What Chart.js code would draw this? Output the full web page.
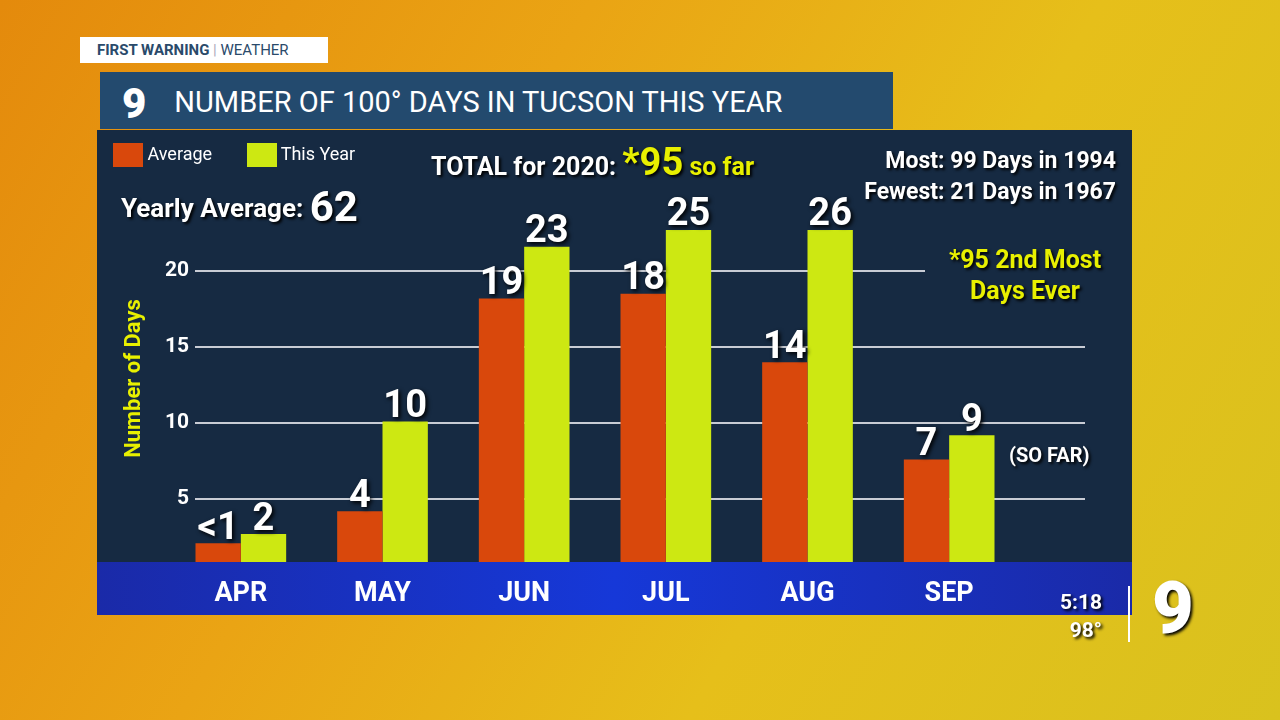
<!DOCTYPE html>
<html>
<head>
<meta charset="utf-8">
<script src="https://cdn.jsdelivr.net/npm/chart.js@4"></script>
<style>
body { margin:0; width:1280px; height:720px; overflow:hidden; font-family:Roboto, sans-serif;
  background: linear-gradient(120deg, #e48a0c 0%, #eaa414 35%, #e6bf1a 65%, #d9c21e 100%); position:relative; }
.abs { position:absolute; }
#tag { left:80px; top:37px; width:248px; height:26px; background:#fff; font-size:15px; line-height:26px; color:#2a4a6a; }
#title { left:100px; top:72px; width:793px; height:57px; background:#234a6e; color:#fff; font-size:29px; line-height:60px; }
#panel { left:97px; top:130px; width:1035px; height:485px; background:#162a42; }
#band { left:97px; top:562px; width:1035px; height:53px; background:linear-gradient(90deg,#1a2aa8,#1638d8 50%,#1a2aa8); }
#chartbox { left:97px; top:130px; width:1035px; height:485px; }
.w { color:#fff; font-weight:bold; }
.y { color:#e8f000; font-weight:bold; }
.sh { text-shadow:2px 2px 3px #000; }
</style>
</head>
<body>
<div class="abs" id="tag"><b style="margin-left:17px">FIRST WARNING</b> <span style="color:#aab">|</span> WEATHER</div>
<div class="abs" id="title"><span style="font-weight:900;font-size:42px;margin-left:22px;vertical-align:middle">9</span><span style="margin-left:28px">NUMBER OF 100° DAYS IN TUCSON THIS YEAR</span></div>
<div class="abs" id="panel"></div>
<div class="abs" id="band"></div>
<div class="abs" id="chartbox"><canvas id="chart" width="1035" height="485"></canvas></div>

<div class="abs w" style="left:113px;top:143px;font-size:18px;font-weight:normal"><span style="display:inline-block;width:30px;height:24px;background:#d9480c;vertical-align:middle"></span> Average <span style="display:inline-block;width:30px;height:24px;background:#cde812;vertical-align:middle;margin-left:30px"></span> This Year</div>
<div class="abs w sh" style="left:431px;top:140px;font-size:25px">TOTAL for 2020: <span class="y" style="font-size:38px">*95</span><span class="y"> so far</span></div>
<div class="abs w sh" style="left:840px;top:145px;width:276px;text-align:right;font-size:23px;line-height:31px">Most: 99 Days in 1994<br>Fewest: 21 Days in 1967</div>
<div class="abs w sh" style="left:121px;top:182px;font-size:26px">Yearly Average: <span style="font-size:42px;vertical-align:-4px">62</span></div>
<div class="abs y sh" style="left:930px;top:244px;width:190px;text-align:center;font-size:25px;line-height:31px">*95 2nd Most<br>Days Ever</div>
<div class="abs w sh" style="left:1009px;top:443px;font-size:20px">(SO FAR)</div>
<div class="abs w sh" style="left:1040px;top:588px;width:62px;text-align:right;font-size:21px;line-height:28px">5:18<br>98°</div>
<div class="abs" style="left:1128px;top:586px;width:2px;height:56px;background:#fff"></div>
<div class="abs w sh" style="left:1152px;top:566px;font-size:72px;font-weight:900">9</div>

<script>
var months = ["APR", "MAY", "JUN", "JUL", "AUG", "SEP"];
// bar heights as drawn in the graphic
var averageDays = [2.1, 4.2, 18.2, 18.5, 14.0, 7.6];
var thisYearDays = [2.7, 10.1, 21.6, 22.7, 22.7, 9.2];
// printed labels above bars
var averageLabels = ["<1", "4", "19", "18", "14", "7"];
var thisYearLabels = ["2", "10", "23", "25", "26", "9"];
var gridValues = [5, 10, 15, 20];

var customDraw = {
    id: 'customDraw',
    beforeDatasetsDraw: function (chart) {
        var c = chart.ctx, y = chart.scales.y;
        c.save();
        c.strokeStyle = "#c8ccd4";
        c.lineWidth = 2;
        c.fillStyle = "#fff";
        c.font = "bold 21px Roboto";
        c.textAlign = "right";
        c.textBaseline = "middle";
        gridValues.forEach(function (v) {
            var py = y.getPixelForValue(v);
            c.beginPath();
            c.moveTo(98, py);
            c.lineTo(v == 20 ? 828 : 988, py);
            c.stroke();
            c.fillText(String(v), 92, py);
        });
        c.restore();
    },
    afterDatasetsDraw: function (chart) {
        var c = chart.ctx;
        c.save();
        c.font = "bold 38px Roboto";
        c.fillStyle = "#fff";
        c.textAlign = "center";
        c.textBaseline = "bottom";
        c.shadowColor = "#000"; c.shadowBlur = 4; c.shadowOffsetX = 2; c.shadowOffsetY = 2;
        [averageLabels, thisYearLabels].forEach(function (labels, di) {
            chart.getDatasetMeta(di).data.forEach(function (bar, i) {
                c.fillText(labels[i], bar.x, bar.y + 5);
            });
        });
        c.restore();
    }
};

new Chart(document.getElementById('chart'), {
    type: 'bar',
    data: {
        labels: months,
        datasets: [
            { label: 'Average', data: averageDays, backgroundColor: '#d9480c' },
            { label: 'This Year', data: thisYearDays, backgroundColor: '#cde812' }
        ]
    },
    options: {
        responsive: false,
        animation: false,
        devicePixelRatio: 1,
        layout: { padding: { top: 65, right: 112, bottom: 0, left: 20 } },
        plugins: { legend: { display: false }, tooltip: { enabled: false } },
        datasets: { bar: { barPercentage: 1, categoryPercentage: 0.64 } },
        scales: {
            x: {
                grid: { display: false },
                border: { display: false },
                ticks: { color: '#fff', font: { size: 27, weight: 'bold', family: 'Roboto' }, padding: 8 },
                afterFit: function (s) { s.height = 53; }
            },
            y: {
                min: 0.86, max: 25,
                grid: { display: false },
                border: { display: false },
                ticks: { display: false },
                title: { display: true, text: 'Number of Days', color: '#e8f000', font: { size: 22, weight: 'bold', family: 'Roboto' } },
                afterFit: function (s) { s.width = 53; }
            }
        }
    },
    plugins: [customDraw]
});
</script>
</body>
</html>
